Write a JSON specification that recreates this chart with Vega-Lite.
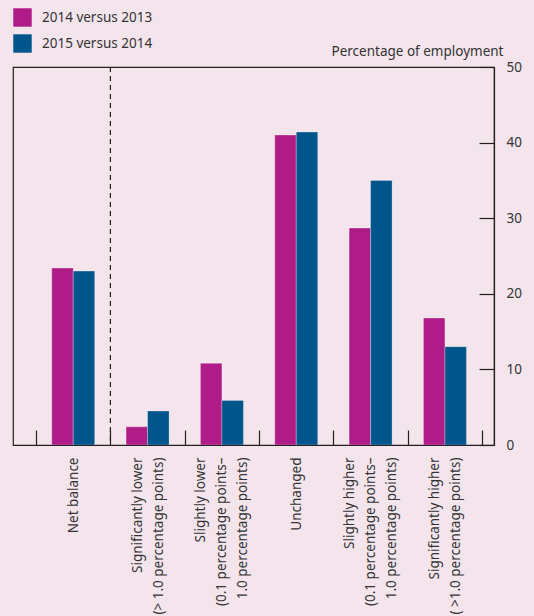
{
  "$schema": "https://vega.github.io/schema/vega-lite/v6.json",
  "width": 481,
  "height": 378,
  "autosize": {"type": "none"},
  "padding": {"left": 13, "top": 67, "right": 40, "bottom": 171},
  "background": "#f4e5ed",
  "config": {"view": {"stroke": "#231f20", "strokeWidth": 1.2}, "font": "Noto Sans"},
  "datasets": {
    "bars": [
      {"category": "Net balance", "series": "2014 versus 2013", "value": 23.4},
      {"category": "Net balance", "series": "2015 versus 2014", "value": 23.0},
      {"category": "Significantly lower|(> 1.0 percentage points)", "series": "2014 versus 2013", "value": 2.4},
      {"category": "Significantly lower|(> 1.0 percentage points)", "series": "2015 versus 2014", "value": 4.5},
      {"category": "Slightly lower|(0.1 percentage points–|1.0 percentage points)", "series": "2014 versus 2013", "value": 10.8},
      {"category": "Slightly lower|(0.1 percentage points–|1.0 percentage points)", "series": "2015 versus 2014", "value": 5.9},
      {"category": "Unchanged", "series": "2014 versus 2013", "value": 41.0},
      {"category": "Unchanged", "series": "2015 versus 2014", "value": 41.4},
      {"category": "Slightly higher|(0.1 percentage points–|1.0 percentage points)", "series": "2014 versus 2013", "value": 28.7},
      {"category": "Slightly higher|(0.1 percentage points–|1.0 percentage points)", "series": "2015 versus 2014", "value": 35.0},
      {"category": "Significantly higher|( >1.0 percentage points)", "series": "2014 versus 2013", "value": 16.8},
      {"category": "Significantly higher|( >1.0 percentage points)", "series": "2015 versus 2014", "value": 13.0}
    ],
    "divider": [{"category": "Significantly lower|(> 1.0 percentage points)"}]
  },
  "layer": [
    {
      "data": {"name": "bars"},
      "mark": {"type": "bar", "stroke": "#ffffff", "strokeOpacity": 0.35, "strokeWidth": 0.8},
      "encoding": {
        "x": {
          "field": "category", "type": "nominal", "sort": null,
          "scale": {"paddingInner": 0, "paddingOuter": 0.235, "align": 0.66},
          "axis": {
            "title": null, "labelAngle": -90, "labelAlign": "right", "labelBaseline": "middle",
            "tickBand": "extent", "tickSize": -15, "labelPadding": 27, "labelLineHeight": 21,
            "labelFontSize": 13.5, "labelColor": "#333333", "labelExpr": "split(datum.label, '|')",
            "labelOffset": {"condition": [
              {"test": "length(split(datum.label, '|')) == 3", "value": -21},
              {"test": "length(split(datum.label, '|')) == 2", "value": -10.5}
            ], "value": 0},
            "labelLimit": 300,
            "domainColor": "#231f20", "tickColor": "#231f20", "tickWidth": 1.2, "domainWidth": 1.2, "zindex": 1
          }
        },
        "xOffset": {"field": "series", "scale": {"paddingInner": 0, "paddingOuter": 0.73}},
        "y": {
          "field": "value", "type": "quantitative", "scale": {"domain": [0, 50]},
          "axis": {
            "orient": "right", "values": [0, 10, 20, 30, 40, 50], "tickSize": -15, "labelPadding": 27,
            "title": "Percentage of employment", "titleAngle": 0, "titleAlign": "right", "titleBaseline": "bottom",
            "titleX": 9, "titleY": -9, "titleFontSize": 13.5, "titleFontWeight": "normal", "titleColor": "#333333",
            "grid": false, "domainColor": "#231f20", "tickColor": "#231f20", "zindex": 1,
            "tickWidth": 1.2, "domainWidth": 1.2, "labelFontSize": 13.5, "labelColor": "#333333", "labelFlush": false
          }
        },
        "color": {
          "field": "series", "type": "nominal",
          "scale": {"range": ["#b01c87", "#00558b"]},
          "legend": {
            "orient": "none", "legendX": 0, "legendY": -59, "title": null, "symbolType": "square",
            "symbolSize": 340, "symbolStrokeWidth": 0, "labelFontSize": 13.5, "labelColor": "#333333",
            "rowPadding": 7, "labelOffset": 10
          }
        }
      }
    },
    {
      "data": {"name": "divider"},
      "mark": {"type": "rule", "strokeDash": [5, 4], "color": "#231f20", "strokeWidth": 1.2},
      "encoding": {"x": {"field": "category", "type": "nominal", "sort": null, "bandPosition": 0}}
    }
  ]
}
